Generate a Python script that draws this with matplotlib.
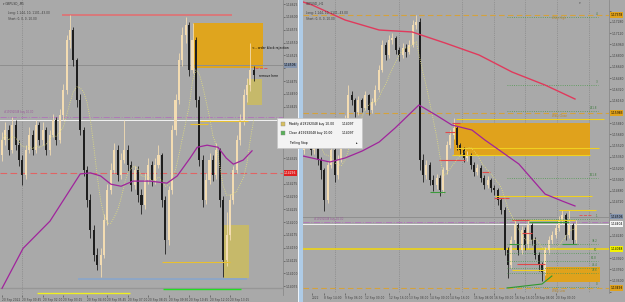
"""GBPUSD M5 / H1 trading screenshot redrawn with matplotlib (Agg, no GUI)."""

import matplotlib
matplotlib.use("Agg")
import matplotlib.pyplot as plt
import numpy as np
import pandas as pd
from matplotlib.patches import Rectangle

# ---------------------------------------------------------------- data
# prices are stored as pips above a base price
LEFT_BASE = 1.14
RIGHT_BASE = 1.13

left_close = [36.0, 38.0, 34.0, 38.9, 35.0, 32.1, 29.2, 34.0, 37.0, 34.0,
              38.9, 36.0, 38.0, 34.0, 37.0, 39.9, 36.0, 40.9, 45.8, 55.5,
              57.5, 51.6, 43.8, 38.0, 30.1, 24.3, 18.4, 13.6, 11.6, 13.6,
              20.4, 26.2, 30.1, 34.0, 29.2, 32.1, 34.0, 31.1, 27.2, 30.1,
              25.3, 23.3, 28.2, 31.1, 28.2, 31.1, 33.1, 24.3, 16.5, 26.2,
              38.0, 43.8, 51.6, 56.5, 58.4, 49.7, 55.5, 43.8, 32.1, 24.3,
              28.2, 32.1, 29.2, 34.0, 24.3, 12.6, 17.5, 24.3, 30.1, 36.0,
              39.9, 44.8, 46.7, 49.7, 48.7]
left_high = [37.5, 39.5, 39.0, 40.5, 40.0, 36.0, 33.0, 35.0, 38.5, 38.0,
             40.0, 39.5, 39.5, 38.5, 38.0, 41.0, 40.5, 42.0, 47.0, 56.5,
             60.4, 58.0, 52.0, 45.0, 38.5, 31.0, 25.5, 19.5, 15.0, 15.0,
             21.5, 27.5, 31.5, 35.5, 35.0, 33.5, 39.9, 35.0, 32.0, 31.0,
             31.0, 26.5, 29.5, 32.5, 32.0, 32.5, 35.0, 33.5, 25.0, 27.0,
             39.0, 45.0, 53.0, 58.0, 60.0, 59.0, 58.8, 56.0, 44.5, 33.0,
             29.5, 33.5, 33.0, 35.5, 34.5, 25.0, 22.0, 25.5, 31.0, 37.0,
             41.0, 46.0, 48.0, 54.9, 50.5]
left_low = [32.0, 35.0, 33.0, 33.5, 34.0, 31.0, 27.2, 28.5, 33.5, 33.0,
            33.5, 35.0, 35.0, 33.0, 33.0, 36.5, 35.0, 35.5, 40.0, 45.0,
            54.0, 50.5, 42.5, 37.0, 29.0, 23.0, 17.0, 12.5, 10.7, 9.3,
            13.0, 19.5, 25.5, 29.5, 28.0, 28.5, 31.5, 30.0, 26.0, 26.5,
            24.0, 21.6, 22.5, 27.5, 27.0, 27.5, 30.5, 23.0, 13.8, 15.5,
            25.5, 37.0, 43.0, 50.5, 55.0, 48.5, 49.0, 42.5, 31.0, 23.0,
            23.5, 27.5, 28.0, 28.5, 23.0, 9.3, 11.5, 16.5, 23.5, 29.5,
            35.0, 39.0, 43.5, 45.5, 47.5]
left_first_open = 33.0

# slow moving average on the M5 chart (candle index, pips)
left_slow_x = [0, 6.2, 14.1, 23, 26, 29, 32, 35, 38.5, 43.5, 48.5, 51.5,
               55.3, 57.4, 60.3, 63.5, 65.9, 68, 70.9, 73.5]
left_slow = [7.1, 14.9, 20.2, 29.4, 29.6, 29.0, 27.4, 27.0, 28.0, 28.0, 27.6,
             29.0, 32.5, 34.6, 35.0, 34.6, 32.5, 31.3, 32.1, 33.9]

left_time_idx = [0, 6, 12, 18, 25, 31, 37, 43, 49, 55, 61, 67]
left_time_labels = ["20 Sep 2022", "20 Sep 00:45", "20 Sep 02:00", "20 Sep 03:15",
                    "20 Sep 04:30", "20 Sep 05:45", "20 Sep 07:00", "20 Sep 08:15",
                    "20 Sep 09:30", "20 Sep 10:45", "20 Sep 12:00", "20 Sep 13:15"]

right_close = [259.9, 281.2, 245.6, 267.0, 231.4, 217.2, 174.5, 224.3, 245.6, 210.1,
               231.4, 252.8, 288.3, 323.9, 316.8, 299.7, 316.8, 305.4, 323.9, 302.6,
               313.9, 331.0, 359.5, 395.1, 380.8, 402.2, 405.0, 388.0, 380.8, 390.8,
               385.1, 395.1, 423.5, 427.8, 231.4, 210.1, 224.3, 203.0, 195.9, 205.8,
               188.7, 217.2, 252.8, 267.0, 277.0, 252.8, 245.6, 234.3, 238.6, 224.3,
               214.3, 220.0, 205.8, 195.9, 203.0, 191.6, 188.7, 174.5, 160.3, 103.4,
               82.0, 117.6, 138.9, 103.4, 131.8, 110.5, 138.9, 117.6, 96.2, 82.0,
               72.0, 103.4, 117.6, 124.7, 134.7, 146.0, 153.2, 124.7, 138.9, 117.6,
               138.9]
right_high = [266, 288, 285, 272, 270, 236, 220, 230, 252, 248,
              238, 258, 295, 338.1, 330, 320, 322, 320, 330, 326,
              320, 338, 366, 402, 400, 410, 412.1, 408, 392, 398,
              396, 402, 430, 437.8, 433.5, 240, 232, 228, 210, 212,
              210, 222, 258, 274, 291.2, 280, 256, 250, 244, 242,
              228, 226, 224, 210, 208, 206, 196, 192, 178, 164,
              108, 124, 146, 142, 138, 136, 146, 142, 122, 100,
              86, 108, 124, 130, 140, 152, 160.3, 156, 160.3, 142,
              146]
right_low = [240, 255, 238, 240, 224, 205, 158.8, 170, 220, 200,
             205, 228, 248, 284, 310, 293, 295, 300, 302, 296,
             298, 310, 328, 356, 374, 376, 396, 382, 372, 376,
             378, 382, 392, 418, 217, 200, 205, 196, 188, 190,
             180.2, 185, 212, 248, 262, 246, 238, 228, 230, 218,
             208, 210, 200, 190, 192, 186, 182, 168, 154, 96,
             63.5, 78, 112, 96, 98, 104, 106, 110, 90, 74,
             59.2, 68, 98, 112, 120, 130, 140, 118, 120, 111.9,
             114]
right_first_open = 245.6

right_long_ma_x = [-0.3, 2.4, 12.1, 22.1, 31.8, 41.5, 51.5, 61.2, 70.9, 79.7]
right_long_ma = [456.3, 452.0, 430.6, 416.4, 413.6, 397.9, 380.8, 356.6, 338.1, 318.2]
right_mid_ma_x = [-0.3, 7.6, 12.1, 17.1, 22.1, 26.8, 33.8, 38.8, 43.5, 49.4,
                  53.2, 57.4, 63.2, 70.9, 75.9, 79.7]
right_mid_ma = [237.1, 228.6, 234.3, 244.2, 257.0, 277.0, 309.7, 295.4, 281.2, 274.1,
                259.9, 245.6, 225.7, 183.0, 173.1, 166.0]

right_time_idx = [2.4, 6, 12, 18, 25, 31, 37, 43, 50, 56, 62, 68, 74]
right_time_labels = ["2022", "8 Sep 14:00", "9 Sep 06:00", "12 Sep 00:00", "12 Sep 16:00",
                     "13 Sep 08:00", "14 Sep 00:00", "14 Sep 16:00", "15 Sep 08:00",
                     "16 Sep 00:00", "16 Sep 16:00", "19 Sep 08:00", "20 Sep 00:00"]

# chart objects: (start index, end index, level) in pips
left_top_line = (17.6, 67.6, 60.4)
left_ob = (56.2, 76.8, 50.0, 58.8)
left_zone_small = (72.0, 76.5, 42.8, 47.9)
left_zone_low = (65.3, 72.6, 9.1, 19.4)
left_yellow = [(58.2, 72.4, 39.7), (55.3, 60.6, 39.1), (47.0, 67.0, 12.2)]
left_blue = (22.4, 72.0, 8.9)
left_bottom_yellow = (10.3, 37.6, 6.2)
left_bottom_green = (47.4, 70.3, 6.9)
left_floor = 7.1
left_bid = 50.6
left_order = 40.0
left_stop = 29.6

right_weekly = [437.8, 298.3, 49.3]
right_weekly_names = ["Wkly High", "Wkly Close", "Wkly Low"]
right_ob = (44.1, 84.1, 237.1, 284.1)
right_zone_low = (70.9, 87.1, 57.8, 79.2)
right_yellow = [(44.7, 88.2, 289.8), (44.7, 86.8, 248.5), (43.5, 84.1, 238.5),
                (56.2, 84.7, 180.2), (75.0, 85.9, 160.3), (61.2, 79.7, 146.0),
                (61.2, 71.0, 74.9)]
right_level = 104.8
right_bid = 150.6
right_order = 140.4
right_fib = [434.9, 338.1, 301.2, 205.8, 147.5, 111.9, 99.1, 87.7, 77.7, 70.6, 50.7]
right_fib_names = ["4", "3", "261.8", "161.8", "1", "38.2", "50", "61.8", "76.4", "78.6", "0"]
right_fib_span = (59.7, 86.5)
right_trend_x = [59.7, 70.0, 72.9]
right_trend = [49.3, 55.0, 66.4]
right_red_marks = [(39.7, 47.4, 231.4), (52.4, 54.7, 214.3), (55.9, 60.3, 177.3),
                   (61.2, 66.2, 146.0), (64.1, 67.1, 127.5), (62.6, 70.9, 83.4),
                   (41.5, 44.4, 271.3), (43.5, 45.9, 284.1)]
right_green_marks = [(37.1, 41.5, 185.9), (60.3, 63.2, 111.9), (75.9, 80.3, 111.9),
                     (66.2, 77.9, 143.2)]
right_seps = [9.1, 27.9, 46.5, 55.9, 65.0, 74.4, 83.8]

# ---------------------------------------------------------------- styling
W, H = 625, 302
BG = "#a9a9a9"
UP = "#f3dcb2"
DOWN = "#1e1e1e"
AXC = "#404040"
LABEL_PT = 2.2
MENU = (277, 118, 362, 148)  # context menu box, pixels (x0, y0, x1, y1)


def fbox(x0, y0, x1, y1):
    return [x0 / W, 1 - y1 / H, (x1 - x0) / W, (y1 - y0) / H]


def price(base, v):
    return f"{base + v / 1e4:.5f}"


def candles(ax, o, h, l, c, width=0.6):
    o, h, l, c = map(np.asarray, (o, h, l, c))
    x = np.arange(len(c))
    up = c >= o
    for mask, col in ((up, UP), (~up, DOWN)):
        ax.vlines(x[mask], l[mask], h[mask], color=col, lw=0.6, zorder=3)
        ax.bar(x[mask], (c - o)[mask], bottom=o[mask], width=width, color=col,
               lw=0, zorder=3)


def axis_box(ax, v, text, fc, tc="black"):
    ax.text(1.004, v, text, transform=ax.get_yaxis_transform(), fontsize=LABEL_PT,
            color=tc, va="center", ha="left", clip_on=False, zorder=6,
            bbox=dict(boxstyle="square,pad=0.2", fc=fc, ec="none"))


def setup(ax, base, ticks, tidx, tlabels, boxes, hidden=None):
    ax.set_facecolor(BG)
    for s in ("top", "left", "bottom"):
        ax.spines[s].set_visible(False)
    ax.spines["right"].set_color("#8a8a8a")
    ax.spines["right"].set_linewidth(0.6)
    ax.yaxis.tick_right()
    # price boxes (and the menu) sit on top of the scale labels
    span = ax.get_ylim()[1] - ax.get_ylim()[0]
    labels = []
    for t in ticks:
        covered = min(abs(t - b) for b in boxes) <= span * 0.02
        if hidden is not None and hidden[0] <= t <= hidden[1]:
            covered = True
        labels.append("" if covered else price(base, t))
    ax.set_yticks(ticks, labels)
    ax.tick_params(axis="y", length=1.2, width=0.4, pad=0.8, labelsize=LABEL_PT,
                   colors=AXC)
    ax.set_xticks(tidx, tlabels)
    ax.tick_params(axis="x", length=1.2, width=0.4, pad=0.8, labelsize=2.1,
                   colors=AXC)
    for lab in ax.get_xticklabels():
        lab.set_ha("left")


fig = plt.figure(figsize=(W / 100, H / 100), dpi=100, facecolor=BG)

# ---------------------------------------------------------------- left: M5
ax1 = fig.add_axes(fbox(0, 0, 283, 295))
ax1.set_xlim(-0.59, 82.6)
ax1.set_ylim(5.8, 63.3)
# pips range hidden by the context menu (menu rows 118..148 px)
menu_hidden = (63.3 - 0.195 * (MENU[3] + 3), 63.3 - 0.195 * (MENU[1] - 3))
setup(ax1, LEFT_BASE, np.arange(7.5, 63, 2.5), left_time_idx, left_time_labels,
      [left_bid, left_stop], menu_hidden)

ax1.axvline(5.9, color="#7c7c7c", ls=":", lw=0.5, zorder=1)
x0, x1, lv = left_top_line
ax1.hlines(lv, x0, x1, color="#d9787a", lw=1.4, zorder=2)
x0, x1, lo, hi = left_ob
ax1.add_patch(Rectangle((x0, lo), x1 - x0, hi - lo, fc="#dfa51e", ec="none", zorder=1))
for zone in (left_zone_small, left_zone_low):
    x0, x1, lo, hi = zone
    ax1.add_patch(Rectangle((x0, lo), x1 - x0, hi - lo, fc="#c6b96a", ec="none", zorder=1))
ax1.axhline(left_bid, color="#8f8f8f", lw=0.7, zorder=1)
ax1.axhline(left_order, color="#f2f2f2", lw=0.7, zorder=2)
ax1.axhline(left_order + 0.5, color="#b07ab8", lw=0.7, ls="-.", zorder=2)
ax1.axhline(left_stop, color="#e06464", lw=0.8, ls=(0, (6, 3)), zorder=2)
for x0, x1, lv in left_yellow:
    ax1.hlines(lv, x0, x1, color="#e8c030", lw=0.8, zorder=4)
x0, x1, lv = left_blue
ax1.hlines(lv, x0, x1, color="#8ea6c6", lw=1.4, zorder=2)
ax1.axhline(left_floor, color="#969696", lw=1.0, zorder=2)
x0, x1, lv = left_bottom_yellow
ax1.hlines(lv, x0, x1, color="#f0f020", lw=1.0, zorder=2)
x0, x1, lv = left_bottom_green
ax1.hlines(lv, x0, x1, color="#22dd22", lw=1.0, zorder=2)
ax1.hlines(50.0, 74.4, 78.0, color="#e05050", lw=0.6, ls="--", zorder=4)

candles(ax1, [left_first_open] + left_close[:-1], left_high, left_low, left_close)
fast = pd.Series(left_close).rolling(8, min_periods=1).mean()
ax1.plot(fast.index, fast, color="#e6e27a", lw=0.6, ls=":", zorder=4)
ax1.plot(left_slow_x, left_slow, color="#a0249c", lw=0.9, zorder=4)

ax1.text(73.5, 54.0, "<-- order block rejection", fontsize=2.2, va="center", zorder=6)
ax1.text(75.6, 48.5, "remove here", fontsize=2.2, va="center", zorder=6)
ax1.text(0.6, left_order + 1.0, "#19192048 buy 10.00", fontsize=1.9, color="#9a5a9a",
         va="bottom", zorder=6)
ax1.text(0.01, 0.995, "\u25be GBPUSD_,M5", transform=ax1.transAxes, fontsize=2.1,
         color="#3a3a3a", va="top", zorder=6)
ax1.text(0.03, 0.962, "Long: 1.144, 10, 1101, 43.00", transform=ax1.transAxes,
         fontsize=2.1, color="#3a3a3a", va="top", zorder=6)
ax1.text(0.03, 0.942, "Short: 0, 0, 0, 10.00", transform=ax1.transAxes,
         fontsize=2.1, color="#3a3a3a", va="top", zorder=6)
axis_box(ax1, left_bid, price(LEFT_BASE, left_bid), "#8595ae")
axis_box(ax1, left_stop, price(LEFT_BASE, left_stop), "#e02020", "white")

# ---------------------------------------------------------------- right: H1
ax2 = fig.add_axes(fbox(303, 0, 609, 293))
ax2.set_xlim(-0.29, 89.7)
ax2.set_ylim(42.2, 459.1)
setup(ax2, RIGHT_BASE, np.arange(44, 460, 16), right_time_idx, right_time_labels,
      right_weekly + [right_bid, right_order, right_level])

for xs in right_seps:
    ax2.axvline(xs, color="#7c7c7c", ls=":", lw=0.5, zorder=1)
x0, x1, lo, hi = right_ob
ax2.add_patch(Rectangle((x0, lo), x1 - x0, hi - lo, fc="#e0a21c", ec="none", zorder=1))
x0, x1, lo, hi = right_zone_low
ax2.add_patch(Rectangle((x0, lo), x1 - x0, hi - lo, fc="#e0a21c", ec="none", zorder=1))
for lv, name in zip(right_weekly, right_weekly_names):
    ax2.axhline(lv, color="#d4a23c", lw=0.8, ls=(0, (5, 3)), zorder=2)
    ax2.text(73.0, lv - 2, name, fontsize=2.0, color="#b8862c", va="top", zorder=6)
for x0, x1, lv in right_yellow:
    ax2.hlines(lv, x0, x1, color="#f0d020", lw=0.8, zorder=4)
ax2.axhline(right_level, color="#e8d020", lw=1.3, zorder=2)
ax2.axhline(right_bid, color="#8f8f8f", lw=0.7, zorder=1)
ax2.axhline(right_order, color="#f2f2f2", lw=0.7, zorder=2)
ax2.axhline(right_order + 2.8, color="#b07ab8", lw=0.7, ls="-.", zorder=2)
ax2.text(2.9, right_order + 4, "#19192048 buy 10.00", fontsize=1.9, color="#9a5a9a",
         va="bottom", zorder=6)
f0, f1 = right_fib_span
for lv, name in zip(right_fib, right_fib_names):
    ax2.hlines(lv, f0, f1, color="#4f9a4f", lw=0.6, ls=":", zorder=4)
    ax2.text(f1 - 0.3, lv + 1, name, fontsize=1.9, color="#3d7a3d", ha="right",
             va="bottom", zorder=6)
for x0, x1, lv in right_red_marks:
    ax2.hlines(lv, x0, x1, color="#e04848", lw=0.8, zorder=4)
for x0, x1, lv in right_green_marks:
    ax2.hlines(lv, x0, x1, color="#3c9a3c", lw=0.8, zorder=4)
ax2.plot(right_trend_x, right_trend, color="#2f9a2f", lw=0.8, zorder=4)
ax2.hlines(153.0, 81.0, 84.5, color="#e05050", lw=0.6, ls="--", zorder=4)

candles(ax2, [right_first_open] + right_close[:-1], right_high, right_low, right_close)
fast2 = pd.Series(right_close).rolling(8, min_periods=1).mean()
ax2.plot(fast2.index, fast2, color="#e6e27a", lw=0.6, ls=":", zorder=4)
ax2.plot(right_long_ma_x, right_long_ma, color="#e03a5c", lw=1.0, zorder=4)
ax2.plot(right_mid_ma_x, right_mid_ma, color="#a0249c", lw=0.9, zorder=4)

ax2.text(0.01, 0.995, "GBPUSD_,H1", transform=ax2.transAxes, fontsize=2.1,
         color="#3a3a3a", va="top", zorder=6)
ax2.text(0.01, 0.962, "Long: 1.144, 10, 1101, 43.00", transform=ax2.transAxes,
         fontsize=2.1, color="#3a3a3a", va="top", zorder=6)
ax2.text(0.01, 0.942, "Short: 0, 0, 0, 10.00", transform=ax2.transAxes,
         fontsize=2.1, color="#3a3a3a", va="top", zorder=6)
ax2.text(0.905, 0.998, "\u25be", transform=ax2.transAxes, fontsize=2.5,
         color="#555555", va="top", ha="center", zorder=6)
for lv in right_weekly:
    axis_box(ax2, lv, price(RIGHT_BASE, lv), "#e0a21c")
axis_box(ax2, right_bid, price(RIGHT_BASE, right_bid), "#8595ae")
axis_box(ax2, right_order, price(RIGHT_BASE, right_order), "#f4f4f4")
axis_box(ax2, right_level, price(RIGHT_BASE, right_level), "#f4f400")

# ---------------------------------------------------------------- window chrome
fig.add_artist(Rectangle((297.5 / W, 0), 5.5 / W, 1, transform=fig.transFigure,
                         fc="#aecbe6", ec="none", zorder=8))
fig.add_artist(Rectangle((298 / W, 0), 0.8 / W, 1, transform=fig.transFigure,
                         fc="#eef4fa", ec="none", zorder=8))

# context menu
px0, py0, px1, py1 = MENU
fig.add_artist(Rectangle((px0 / W, 1 - py1 / H), (px1 - px0) / W, (py1 - py0) / H,
                         transform=fig.transFigure, fc="#f3f3f3", ec="#c4c4c4",
                         lw=0.5, zorder=10))
menu = [("Modify #19192048 buy 10.00", "1.14097", 124, "#d8c060"),
        ("Close #19192048 buy 10.00", "1.14097", 133, "#58b058"),
        ("Trailing Stop", "", 143, None)]
for text, val, yy, icon in menu:
    fig.text(289 / W, 1 - yy / H, text, fontsize=2.2, va="center", zorder=11)
    if val:
        fig.text(342 / W, 1 - yy / H, val, fontsize=2.2, va="center", zorder=11)
    if icon:
        fig.add_artist(Rectangle((280.5 / W, 1 - (yy + 2) / H), 4 / W, 4 / H,
                                 transform=fig.transFigure, fc=icon, ec="#8a8a8a",
                                 lw=0.3, zorder=11))
fig.text(356 / W, 1 - 143 / H, "\u25b8", fontsize=2.4, va="center", zorder=11)

fig.savefig("out.png", dpi=100, facecolor=BG)
